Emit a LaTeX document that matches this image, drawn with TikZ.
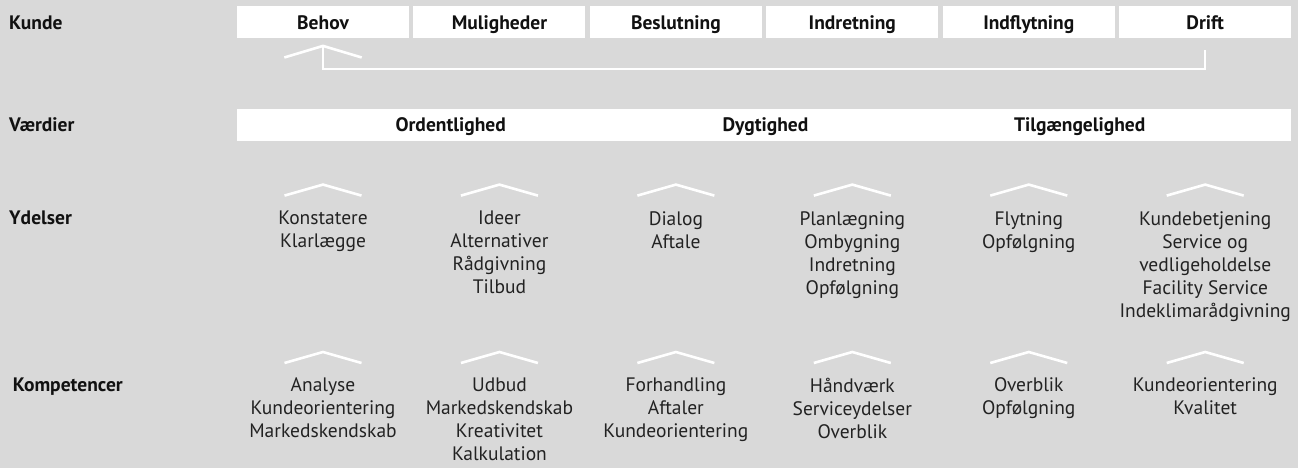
\documentclass[tikz,border=0pt]{standalone}
\usepackage{fontspec}
\setmainfont{PT Sans}
\definecolor{bg}{HTML}{D9D9D9}
\definecolor{ink}{HTML}{111111}
\definecolor{itemink}{HTML}{222222}
\begin{document}
\begin{tikzpicture}[x=1pt,y=-1pt,
  hdr/.style={font=\bfseries\fontsize{19.5}{23}\selectfont, text=ink, inner sep=0pt},
  rowlabel/.style={hdr, anchor=base west},
  phase/.style={hdr, fill=white, minimum width=172pt, minimum height=31.7pt, text height=15pt, text depth=0pt},
  valuebar/.style={fill=white, inner sep=0pt, minimum width=1054.2pt, minimum height=31.7pt},
  valuetxt/.style={hdr, anchor=base},
  item/.style={font=\fontsize{19.5}{23}\selectfont, text=itemink, align=center, anchor=north, inner sep=0pt},
  chev/.style={draw=white, line width=2.6pt},
  fb/.style={draw=white, line width=2pt}]
\fill[bg] (0,0) rectangle (1298,468);
\useasboundingbox (0,0) rectangle (1298,468);

% row labels
\node[rowlabel] (lkunde) at (9,29.4) {Kunde};
\node[rowlabel] (lvaerdier) at (9,131.8) {Værdier};
\node[rowlabel] (lydelser) at (9,224.8) {Ydelser};
\node[rowlabel] (lkomp) at (12.7,391.8) {Kompetencer};

% phase boxes
\node[phase] (p1) at (323,21.85) {Behov};
\node[phase] (p2) at (499.44,21.85) {Muligheder};
\node[phase] (p3) at (675.88,21.85) {Beslutning};
\node[phase] (p4) at (852.32,21.85) {Indretning};
\node[phase] (p5) at (1028.76,21.85) {Indflytning};
\node[phase] (p6) at (1205.2,21.85) {Drift};

% feedback connector
\coordinate (fbstart) at ([yshift=-12.3pt]p6.south);
\coordinate (apex0) at ([yshift=-8pt]p1.south);
\draw[fb] (fbstart) -- ++(0,18.5) -| (apex0);
\draw[chev] (apex0) ++(-38.7,11.6) -- (apex0) -- ++(38.7,11.6);

% values bar
\node[valuebar] (vbar) at (764.1,124.85) {};
\node[valuetxt] (v1) at (450.7,131.8) {Ordentlighed};
\node[valuetxt] (v2) at (765.5,131.8) {Dygtighed};
\node[valuetxt] (v3) at (1079.7,131.8) {Tilgængelighed};

% chevrons above Ydelser and Kompetencer items
\foreach \n/\x in {1/323,2/499.44,3/675.88,4/852.32,5/1028.76,6/1205.2}{
  \coordinate (ya\n) at (\x,184.6);
  \draw[chev] (ya\n) ++(-38.5,11) -- (ya\n) -- ++(38.5,11);
  \coordinate (ka\n) at (\x,352);
  \draw[chev] (ka\n) ++(-38.5,11) -- (ka\n) -- ++(38.5,11);
}

% Ydelser
\node[item] (y1) at (323,211) {Konstatere\\Klarlægge};
\node[item] (y2) at (499.44,211) {Ideer\\Alternativer\\Rådgivning\\Tilbud};
\node[item] (y3) at (675.88,211) {Dialog\\Aftale};
\node[item] (y4) at (852.32,211) {Planlægning\\Ombygning\\Indretning\\Opfølgning};
\node[item] (y5) at (1028.76,211) {Flytning\\Opfølgning};
\node[item] (y6) at (1205.2,211) {Kundebetjening\\Service og\\vedligeholdelse\\Facility Service\\Indeklimarådgivning};

% Kompetencer
\node[item] (k1) at (323,377.7) {Analyse\\Kundeorientering\\Markedskendskab};
\node[item] (k2) at (499.44,377.7) {Udbud\\Markedskendskab\\Kreativitet\\Kalkulation};
\node[item] (k3) at (675.88,377.7) {Forhandling\\Aftaler\\Kundeorientering};
\node[item] (k4) at (852.32,377.7) {Håndværk\\Serviceydelser\\Overblik};
\node[item] (k5) at (1028.76,377.7) {Overblik\\Opfølgning};
\node[item] (k6) at (1205.2,377.7) {Kundeorientering\\Kvalitet};
\end{tikzpicture}
\end{document}
